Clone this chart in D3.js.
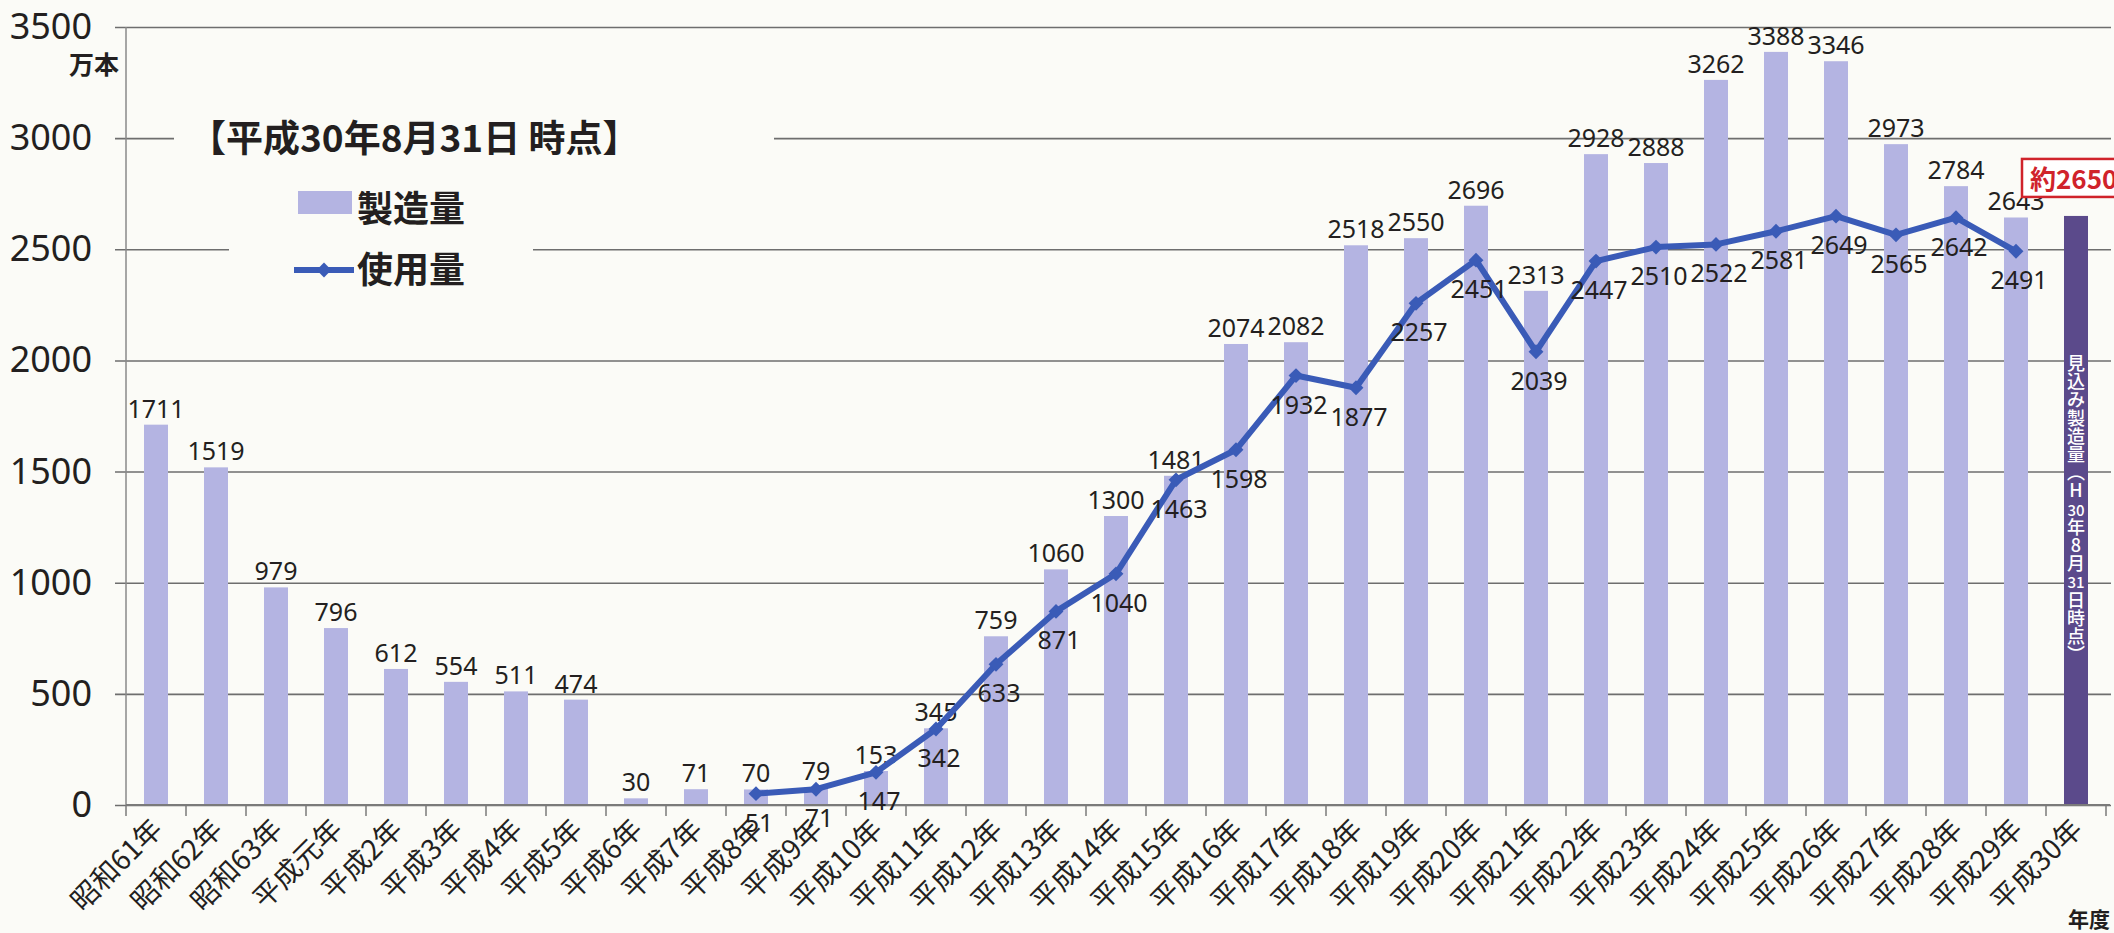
<!DOCTYPE html>
<html>
<head>
<meta charset="utf-8">
<script src="https://cdn.jsdelivr.net/npm/d3@7"></script>
<style>
  html, body { margin: 0; padding: 0; background: #fbfbf7; }
  svg { display: block; }
</style>
</head>
<body>
<svg id="chart" width="2114" height="933"></svg>
<script>
// categories (fiscal years)
const years = ['昭和61年', '昭和62年', '昭和63年', '平成元年', '平成2年', '平成3年', '平成4年', '平成5年',
  '平成6年', '平成7年', '平成8年', '平成9年', '平成10年', '平成11年', '平成12年', '平成13年', '平成14年',
  '平成15年', '平成16年', '平成17年', '平成18年', '平成19年', '平成20年', '平成21年', '平成22年',
  '平成23年', '平成24年', '平成25年', '平成26年', '平成27年', '平成28年', '平成29年', '平成30年'];

// 製造量 (万本) - last one is the forecast for H30
const production = [1711, 1519, 979, 796, 612, 554, 511, 474, 30, 71, 70, 79, 153, 345, 759, 1060, 1300,
  1481, 2074, 2082, 2518, 2550, 2696, 2313, 2928, 2888, 3262, 3388, 3346, 2973, 2784, 2643, 2650];

// 使用量 (万本)
const usage = [null, null, null, null, null, null, null, null, null, null, 51, 71, 147, 342, 633, 871, 1040,
  1463, 1598, 1932, 1877, 2257, 2451, 2039, 2447, 2510, 2522, 2581, 2649, 2565, 2642, 2491, null];

const yTicks = [0, 500, 1000, 1500, 2000, 2500, 3000, 3500];
const forecastLabel = '約2650';
const forecastNote = ['見', '込', 'み', '製', '造', '量', '︵', 'H', '30', '年', '8', '月', '31', '日', '時', '点', '︶'];

const ink = '#231f20';
const barColor = '#b4b4e2';
const lineColor = '#3a5bb7';
const forecastColor = '#5b4a8b';
const gridColor = '#6e6e6e';
const bg = '#fbfbf7';
const numFont = '"Noto Sans", "DejaVu Sans", sans-serif';
const jpFont = '"Noto Sans CJK JP", "Noto Sans", sans-serif';

const svg = d3.select('#chart');
const plotLeft = 126, plotRight = 2106, plotTop = 27, plotBottom = 805;

const x = d3.scaleBand().domain(years).range([plotLeft, plotRight]).padding(0);
const y = d3.scaleLinear().domain([0, 3500]).range([plotBottom, plotTop]);
const step = x.bandwidth();
const barW = step * 0.4;
const cx = d => x(d) + step / 2;

// grid lines
svg.append('g')
  .attr('transform', `translate(${plotLeft - 11},0)`)
  .call(d3.axisLeft(y).tickValues(yTicks).tickSize(-(2111 - plotLeft + 11)).tickFormat(''))
  .call(g => g.select('.domain').remove())
  .call(g => g.selectAll('line').attr('stroke', gridColor).attr('stroke-width', 1.6));

// y tick labels
svg.append('g')
  .attr('transform', `translate(${plotLeft},0)`)
  .call(d3.axisLeft(y).tickValues(yTicks).tickSize(0).tickPadding(34).tickFormat(d3.format('d')))
  .call(g => g.select('.domain').remove())
  .call(g => g.selectAll('text')
    .attr('font-family', numFont).attr('font-size', 36).attr('fill', ink));

// y axis line
svg.append('line')
  .attr('x1', plotLeft).attr('x2', plotLeft).attr('y1', plotTop).attr('y2', plotBottom)
  .attr('stroke', '#8a8a8a').attr('stroke-width', 1.5);

svg.append('text')
  .attr('x', 119).attr('y', 74)
  .attr('text-anchor', 'end')
  .attr('font-family', jpFont).attr('font-weight', 700).attr('font-size', 25)
  .attr('fill', ink).text('万本');

// legend background boxes (they cut the grid lines in the original)
svg.append('rect').attr('x', 174).attr('y', 112).attr('width', 600).attr('height', 54).attr('fill', bg);
svg.append('rect').attr('x', 229).attr('y', 182).attr('width', 304).attr('height', 112).attr('fill', bg);

// bars
svg.append('g').selectAll('rect')
  .data(years)
  .join('rect')
  .attr('x', d => cx(d) - barW / 2)
  .attr('y', (d, i) => y(production[i]))
  .attr('width', barW)
  .attr('height', (d, i) => plotBottom - y(production[i]))
  .attr('fill', (d, i) => i === years.length - 1 ? forecastColor : barColor);

// x axis
svg.append('line')
  .attr('x1', plotLeft).attr('x2', plotRight + 4).attr('y1', plotBottom).attr('y2', plotBottom)
  .attr('stroke', '#7a7a7a').attr('stroke-width', 2);
svg.append('g').selectAll('line')
  .data(years.map(d => x(d)).concat([plotRight]))
  .join('line')
  .attr('x1', d => d).attr('x2', d => d)
  .attr('y1', plotBottom).attr('y2', plotBottom + 11)
  .attr('stroke', '#7a7a7a').attr('stroke-width', 1.5);

svg.append('g').selectAll('text')
  .data(years)
  .join('text')
  .attr('transform', d => `translate(${cx(d) + 8},${plotBottom + 26}) rotate(-45)`)
  .attr('text-anchor', 'end')
  .attr('font-family', jpFont).attr('font-size', 28)
  .attr('fill', ink)
  .text(d => d);

svg.append('text')
  .attr('x', 2110).attr('y', 927)
  .attr('text-anchor', 'end')
  .attr('font-family', jpFont).attr('font-weight', 700).attr('font-size', 21)
  .attr('fill', ink).text('年度');

// bar value labels
svg.append('g').selectAll('text')
  .data(years.slice(0, -1))
  .join('text')
  .attr('x', d => cx(d))
  .attr('y', (d, i) => y(production[i]) - 7)
  .attr('text-anchor', 'middle')
  .attr('font-family', numFont).attr('font-size', 25)
  .attr('fill', ink)
  .text((d, i) => production[i]);

// usage line
const pts = years.map((d, i) => ({ year: d, value: usage[i] })).filter(d => d.value != null);
const line = d3.line().x(d => cx(d.year)).y(d => y(d.value));
svg.append('path')
  .datum(pts)
  .attr('d', line)
  .attr('fill', 'none')
  .attr('stroke', lineColor)
  .attr('stroke-width', 6)
  .attr('stroke-linejoin', 'round');

svg.append('g').selectAll('path')
  .data(pts)
  .join('path')
  .attr('d', d3.symbol(d3.symbolSquare, 110))
  .attr('transform', d => `translate(${cx(d.year)},${y(d.value)}) rotate(45)`)
  .attr('fill', lineColor);

svg.append('g').selectAll('text')
  .data(pts)
  .join('text')
  .attr('x', d => cx(d.year) + 3)
  .attr('y', d => y(d.value) + 38)
  .attr('text-anchor', 'middle')
  .attr('font-family', numFont).attr('font-size', 25)
  .attr('fill', ink)
  .text(d => d.value);

// forecast annotation
const last = years[years.length - 1];
const fTop = y(production[production.length - 1]);
svg.append('rect')
  .attr('x', cx(last) - 54).attr('y', fTop - 57)
  .attr('width', 120).attr('height', 38)
  .attr('fill', '#ffffff')
  .attr('stroke', '#d0232b').attr('stroke-width', 2.5);
svg.append('text')
  .attr('x', cx(last) - 46).attr('y', fTop - 27)
  .attr('font-family', jpFont).attr('font-weight', 700).attr('font-size', 26)
  .attr('fill', '#d0232b')
  .text(forecastLabel);

// vertical note inside the forecast bar, one tspan per cell
const note = svg.append('text')
  .attr('text-anchor', 'middle')
  .attr('font-family', jpFont).attr('font-weight', 500)
  .attr('fill', '#ffffff');
note.selectAll('tspan')
  .data(forecastNote)
  .join('tspan')
  .attr('x', cx(last))
  .attr('y', (d, i) => 370 + i * 18.2)
  .attr('font-size', d => d.length > 1 ? 15 : 18)
  .text(d => d);

// title and legend
svg.append('text')
  .attr('x', 189).attr('y', 152)
  .attr('font-family', jpFont).attr('font-weight', 700).attr('font-size', 37)
  .attr('fill', ink).text('【平成30年8月31日 時点】');

svg.append('rect')
  .attr('x', 298).attr('y', 191).attr('width', 54).attr('height', 23)
  .attr('fill', barColor);
svg.append('text')
  .attr('x', 357).attr('y', 222)
  .attr('font-family', jpFont).attr('font-weight', 700).attr('font-size', 36)
  .attr('fill', ink).text('製造量');

svg.append('line')
  .attr('x1', 294).attr('x2', 354).attr('y1', 270).attr('y2', 270)
  .attr('stroke', lineColor).attr('stroke-width', 6);
svg.append('path')
  .attr('d', d3.symbol(d3.symbolSquare, 110))
  .attr('transform', 'translate(324,270) rotate(45)')
  .attr('fill', lineColor);
svg.append('text')
  .attr('x', 357).attr('y', 283)
  .attr('font-family', jpFont).attr('font-weight', 700).attr('font-size', 36)
  .attr('fill', ink).text('使用量');
</script>
</body>
</html>
